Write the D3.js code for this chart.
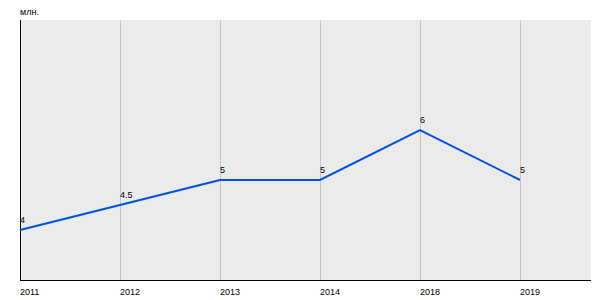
<!DOCTYPE html>
<html lang="ru">
<head>
    <meta charset="UTF-8">
    <title>Chart</title>
    <script src="https://cdn.jsdelivr.net/npm/d3@7"></script>
    <style>
        html, body {
            margin: 0;
            padding: 0;
            background: #fff;
            overflow: hidden;
        }
        text {
            font-family: "Liberation Sans", Arial, sans-serif;
            font-size: 9px;
            fill: #000;
        }
    </style>
</head>
<body>
</body>
<script>
    let width = 600;
    let height = 300;

    let years = ['2011', '2012', '2013', '2014', '2018', '2019'];
    let values = [4, 4.5, 5, 5, 6, 5];
    let unit = 'млн.';

    let mLeft = 20, mRight = 591, mTop = 20, mBottom = 280;

    let x = d3.scalePoint().domain(years).range([mLeft, mLeft + 500]);
    let y = d3.scaleLinear().domain([3, 8.2]).range([mBottom, mTop]);

    let svg = d3.select('body').append('svg')
        .attr('width', width)
        .attr('height', height);

    // фон
    svg.append('rect')
        .attr('x', mLeft).attr('y', mTop)
        .attr('width', mRight - mLeft).attr('height', mBottom - mTop)
        .attr('fill', '#ebebeb');

    // вертикальная сетка
    svg.append('g').selectAll('line')
        .data(years.slice(1))
        .enter().append('line')
        .attr('x1', d => x(d) + .5).attr('x2', d => x(d) + .5)
        .attr('y1', mTop).attr('y2', mBottom)
        .attr('stroke', '#c6c6c6')
        .attr('stroke-width', 1);

    // оси
    svg.append('line')
        .attr('x1', mLeft + .5).attr('x2', mLeft + .5)
        .attr('y1', mTop).attr('y2', mBottom + .5)
        .attr('stroke', '#000');
    svg.append('line')
        .attr('x1', mLeft).attr('x2', mRight)
        .attr('y1', mBottom + .5).attr('y2', mBottom + .5)
        .attr('stroke', '#000');

    svg.append('text')
        .attr('x', mLeft).attr('y', 15)
        .text(unit);

    // подписи по оси X
    svg.append('g').selectAll('text')
        .data(years)
        .enter().append('text')
        .attr('x', d => x(d))
        .attr('y', 295)
        .text(d => d);

    let line = d3.line()
        .x((d, i) => x(years[i]))
        .y(d => y(d));

    svg.append('path')
        .datum(values)
        .attr('d', line)
        .attr('fill', 'none')
        .attr('stroke', '#0050e6')
        .attr('stroke-width', 2);

    // подписи значений
    svg.append('g').selectAll('text')
        .data(values)
        .enter().append('text')
        .attr('x', (d, i) => x(years[i]))
        .attr('y', d => y(d) - 7)
        .text(d => d);
</script>
</html>
